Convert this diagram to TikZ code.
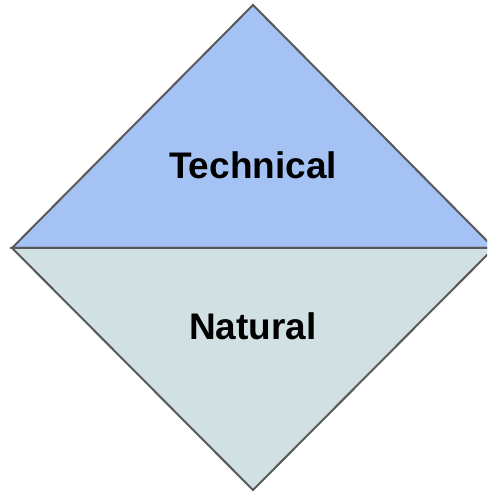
\documentclass[tikz,border=0pt]{standalone}
\usepackage{fontspec}
\setmainfont{Liberation Sans}
\definecolor{techblue}{HTML}{A4C2F4}
\definecolor{natgray}{HTML}{D0E0E3}
\definecolor{edgegray}{HTML}{595959}
\begin{document}
\begin{tikzpicture}[x=1pt,y=1pt,
    half/.style={draw=edgegray,line width=2pt,line join=miter},
    label/.style={font=\bfseries\fontsize{37}{44}\selectfont}]
    \useasboundingbox (0,0) rectangle (487,494);
    \clip (0,0) rectangle (487,494);
    \coordinate (top) at (253,489);
    \coordinate (left) at (12,246);
    \coordinate (right) at (494,246);
    \coordinate (bottom) at (253,4);
    \draw[half,fill=techblue] (left) -- (top) -- (right) -- cycle;
    \draw[half,fill=natgray] (left) -- (bottom) -- (right) -- cycle;
    \node[label] (technical) at (253,329) {Technical};
    \node[label] (natural) at (253,168) {Natural};
\end{tikzpicture}
\end{document}
